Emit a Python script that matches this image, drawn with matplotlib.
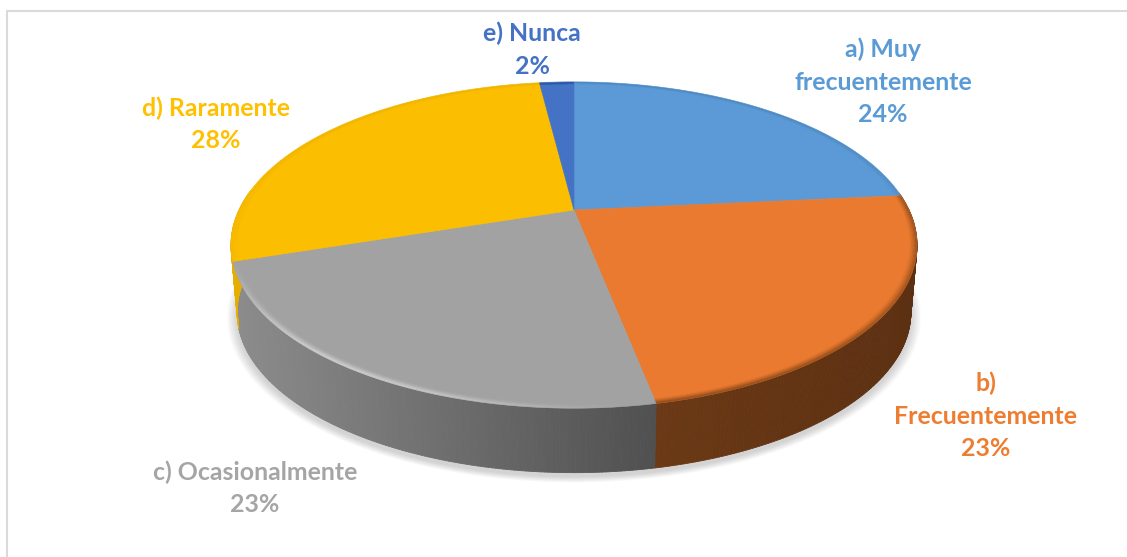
import numpy as np
import matplotlib
matplotlib.use("Agg")
import matplotlib.pyplot as plt
from matplotlib.collections import PolyCollection, LineCollection
from matplotlib.colors import to_rgb

labels = ["a) Muy\nfrecuentemente", "b)\nFrecuentemente", "c) Ocasionalmente", "d) Raramente", "e) Nunca"]
values = [23.5, 23.4, 23.1, 28, 2]
percent_text = ["24%", "23%", "23%", "28%", "2%"]
colors = ["#5B9AD6", "#E97A2F", "#A2A2A2", "#FBBE00", "#4472C4"]
label_colors = ["#5B9BD5", "#ED7D31", "#A5A5A5", "#FFC000", "#4472C4"]
wall_left = ["#3A6A9A", "#6B3915", "#8C8C8C", "#E5AE00", "#2F5597"]
wall_right = ["#3A6A9A", "#5C3012", "#505050", "#E5AE00", "#2F5597"]
bevel = ["#3E6E9E", "#5C3012", "#DCDCDC", "#E0A800", "#2F5597"]
bevel_strength = [0.18, 0.5, 0.75, 0.15, 0.15]
label_centers = [(883, 49), (986, 383), (255, 472), (216, 108), (532, 33)]

CX, CY = 574, 210
SX, SY, K = 335, 155.6, -0.215
DEPTH, BOTTOM_SCALE = 68, 0.982
LINE_PITCH = 33

fig = plt.figure(figsize=(11.27, 5.57), dpi=100)
ax = fig.add_axes([0, 0, 1, 1])
ax.set_xlim(0, 1127)
ax.set_ylim(557, 0)
ax.axis("off")


def project(theta, r=1.0, scale=1.0, dy=0.0):
    x, y = r * np.sin(theta), r * np.cos(theta)
    d = 1 - K * y
    return CX + scale * SX * x / d, CY + dy - scale * SY * y / d


# chart frame
ax.plot([6.5, 6.5, 1127], [557, 10.5, 10.5], color="#DADADA", lw=1.5, solid_joinstyle="miter")

fractions = np.array(values) / sum(values)
edges = np.concatenate([[0], np.cumsum(fractions)]) * 2 * np.pi

# soft shadow
full = np.linspace(0, 2 * np.pi, 361)
for f in np.linspace(1.03, 1.0, 12):
    bx, by = project(full, scale=BOTTOM_SCALE * f, dy=DEPTH + 4)
    ax.fill(bx, by, color="#808080", alpha=0.03, lw=0, zorder=1)

# side walls
for i in range(len(values)):
    th = np.linspace(edges[i], edges[i + 1], 160)
    x0, y0 = project(th)
    x1, y1 = project(th, scale=BOTTOM_SCALE, dy=DEPTH)
    quads, cols = [], []
    c_l, c_r = np.array(to_rgb(wall_left[i])), np.array(to_rgb(wall_right[i]))
    for j in range(len(th) - 1):
        # only the front half of the rim shows
        if np.cos(th[j]) > 0.12:
            continue
        quads.append([(x0[j], y0[j]), (x0[j + 1], y0[j + 1]), (x1[j + 1], y1[j + 1]), (x1[j], y1[j])])
        w = (x0[j] - x0.min()) / max(x0.max() - x0.min(), 1)
        cols.append(c_l + (c_r - c_l) * w)
    if quads:
        ax.add_collection(PolyCollection(quads, facecolors=cols, edgecolors=cols, linewidths=0.6, zorder=2))

# top faces
for i in range(len(values)):
    th = np.linspace(edges[i], edges[i + 1], 200)
    x, y = project(th)
    ax.fill(np.r_[CX, x], np.r_[CY, y], color=colors[i], lw=0.4, zorder=3)

# rim bevel: soft band that fades towards the ends of the slice
for i in range(len(values)):
    th = np.linspace(edges[i], edges[i + 1], 200)
    u = (th - edges[i]) / (edges[i + 1] - edges[i])
    if i == 2:
        # highlight peaks on the left part of the grey slice and fades out
        fade = np.clip(np.sin(np.pi * u ** 1.3), 0, 1) ** 1.2
    elif i == 1:
        fade = np.clip((0.35 - np.cos(th)) * 3, 0, 1)
    else:
        fade = np.ones_like(u)
    rgb = to_rgb(bevel[i])
    for r, a in zip([0.998, 0.994, 0.990, 0.986, 0.982], [0.9, 0.7, 0.45, 0.25, 0.1]):
        xr, yr = project(th, r=r)
        pts = np.column_stack([xr, yr])
        segs = np.stack([pts[:-1], pts[1:]], axis=1)
        seg_cols = [(*rgb, float(a * bevel_strength[i] * fade[k])) for k in range(len(segs))]
        ax.add_collection(LineCollection(segs, colors=seg_cols, linewidths=1.2, zorder=4, capstyle="butt"))

# labels
for name, pct, col, (lx, ly) in zip(labels, percent_text, label_colors, label_centers):
    for n, line in enumerate(name.split("\n") + [pct]):
        ax.text(lx, ly + n * LINE_PITCH, line, color=col, ha="center", va="center",
                fontsize=17.9, fontweight="bold", family="Lato", zorder=5)

fig.savefig("out.png", dpi=100)
